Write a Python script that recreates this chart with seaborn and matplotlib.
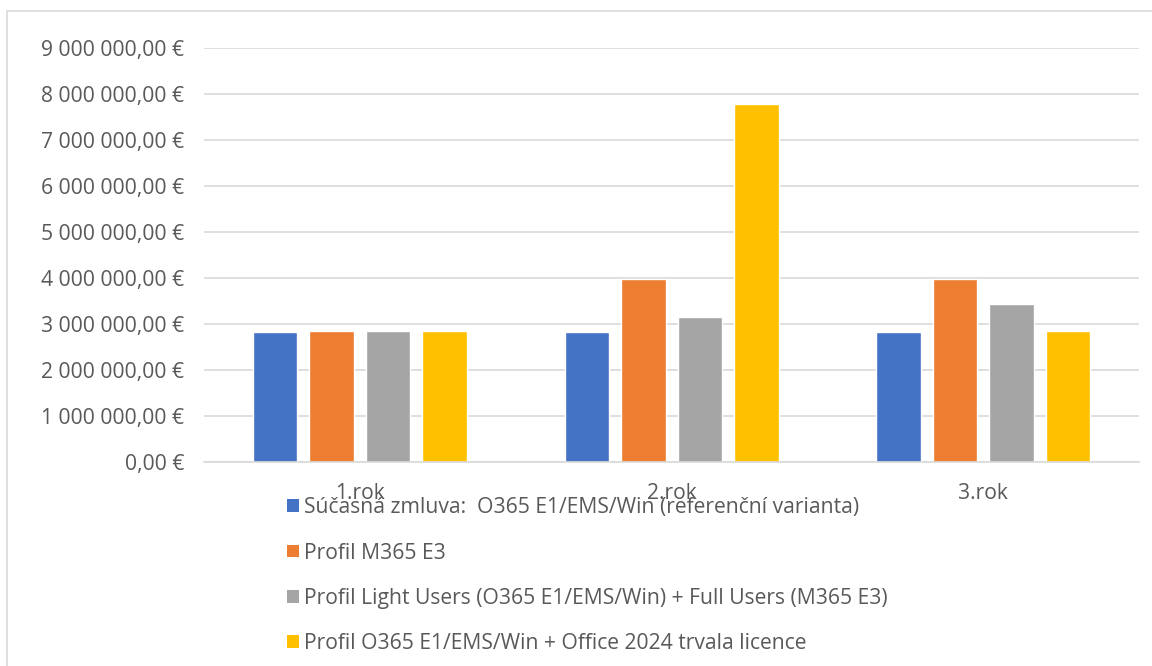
import matplotlib
matplotlib.use("Agg")
import matplotlib.pyplot as plt
from matplotlib.patches import Patch, Rectangle
from matplotlib.ticker import FuncFormatter, MultipleLocator
import pandas as pd
import seaborn as sns

years = ["1.rok", "2.rok", "3.rok"]
profiles = [
    "Súčasná zmluva:  O365 E1/EMS/Win (referenční varianta)",
    "Profil M365 E3",
    "Profil Light Users (O365 E1/EMS/Win) + Full Users (M365 E3)",
    "Profil O365 E1/EMS/Win + Office 2024 trvala licence",
]
current = [2840000, 2840000, 2840000]
m365_e3 = [2860000, 3990000, 3990000]
light_full = [2860000, 3150000, 3440000]
office_2024 = [2850000, 7780000, 2850000]
colors = ["#4472C4", "#ED7D31", "#A5A5A5", "#FFC000"]

series = [current, m365_e3, light_full, office_2024]
rows = []
for name, vals in zip(profiles, series):
    for yr, v in zip(years, vals):
        rows.append({"rok": yr, "profil": name, "cena": v})
df = pd.DataFrame(rows)

sns.set_style("white")
plt.rcParams["font.family"] = ["Open Sans", "DejaVu Sans"]

fig = plt.figure(figsize=(11.52, 6.66), dpi=100)
ax = fig.add_axes([0.177, 0.306, 0.812, 0.6216])

sns.barplot(data=df, x="rok", y="cena", hue="profil", hue_order=profiles,
            palette=colors, width=0.724, gap=0.21, ax=ax, legend=False,
            saturation=1, errorbar=None)

ax.set_ylim(0, 9000000)
ax.yaxis.set_major_locator(MultipleLocator(1000000))


def euro(v, pos):
    return f"{v:,.2f}".replace(",", " ").replace(".", ",") + " €"


ax.yaxis.set_major_formatter(FuncFormatter(euro))
ax.grid(axis="y", color="#d9d9d9", linewidth=1.2)
ax.set_axisbelow(True)
for side in ["top", "right", "left"]:
    ax.spines[side].set_visible(False)
ax.spines["bottom"].set_color("#d9d9d9")
ax.spines["bottom"].set_linewidth(1.2)
ax.tick_params(axis="both", length=0, labelsize=15.2, colors="#595959")
ax.tick_params(axis="x", pad=15)
ax.tick_params(axis="y", pad=14)
ax.set_xlabel("")
ax.set_ylabel("")

handles = [Patch(facecolor=c, edgecolor="none") for c in colors]
fig.legend(handles, profiles, loc="upper left", bbox_to_anchor=(0.242, 0.266),
           frameon=False, fontsize=15.2, labelcolor="#595959",
           handlelength=0.55, handleheight=0.55, handletextpad=0.25,
           labelspacing=1.15, borderaxespad=0)

fig.patches.append(Rectangle((7 / 1152, -0.1), 1.2, (666 - 11) / 666 + 0.1,
                             transform=fig.transFigure, fill=False,
                             edgecolor="#d9d9d9", linewidth=1.2))

fig.savefig("out.png", dpi=100)
